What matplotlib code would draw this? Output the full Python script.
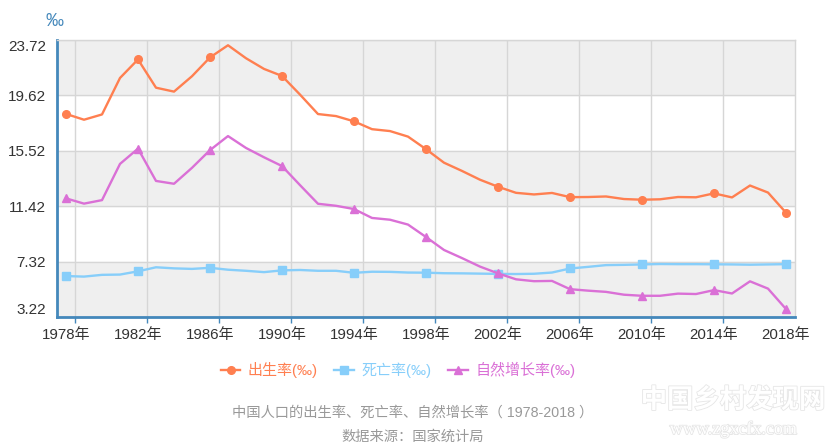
import matplotlib.pyplot as plt
from matplotlib.lines import Line2D
import matplotlib.patheffects as pe

plt.rcParams['font.family'] = ['Liberation Sans', 'Noto Sans CJK SC', 'DejaVu Sans']

years = list(range(1978, 2019))
birth = [18.25, 17.82, 18.21, 20.91, 22.28, 20.19, 19.90, 21.04, 22.43, 23.33,
         22.37, 21.58, 21.06, 19.68, 18.24, 18.09, 17.70, 17.12, 16.98, 16.57,
         15.64, 14.64, 14.03, 13.38, 12.86, 12.41, 12.29, 12.40, 12.09, 12.10,
         12.14, 11.95, 11.90, 11.93, 12.10, 12.08, 12.37, 12.07, 12.95, 12.43,
         10.94]
death = [6.25, 6.21, 6.34, 6.36, 6.60, 6.90, 6.82, 6.78, 6.86, 6.72,
         6.64, 6.54, 6.67, 6.70, 6.64, 6.64, 6.49, 6.57, 6.56, 6.51,
         6.50, 6.46, 6.45, 6.43, 6.41, 6.40, 6.42, 6.51, 6.81, 6.93,
         7.06, 7.08, 7.11, 7.14, 7.13, 7.13, 7.12, 7.11, 7.09, 7.11,
         7.13]
growth = [12.00, 11.61, 11.87, 14.55, 15.68, 13.29, 13.08, 14.26, 15.57, 16.61,
          15.73, 15.04, 14.39, 12.98, 11.60, 11.45, 11.21, 10.55, 10.42, 10.06,
          9.14, 8.18, 7.58, 6.95, 6.45, 6.01, 5.87, 5.89, 5.28, 5.17,
          5.08, 4.87, 4.79, 4.79, 4.95, 4.92, 5.21, 4.96, 5.86, 5.32,
          3.81]
y_ticks = [3.22, 7.32, 11.42, 15.52, 19.62, 23.72]
x_label_years = years[::4]
series_names = ['出生率(‰)', '死亡率(‰)', '自然增长率(‰)']

colors = ['#ff7f50', '#87cefa', '#da70d6']
markers = ['o', 's', '^']
axis_blue = '#4488bb'

fig = plt.figure(figsize=(8.25, 4.48), dpi=100)
ax = fig.add_axes([57 / 825, 1 - 317 / 448, 738 / 825, 277 / 448])

# alternating bands
for i in range(len(y_ticks) - 1):
    if i % 2 == 0:
        ax.axhspan(y_ticks[i], y_ticks[i + 1], color='#efefef', zorder=0)

for vals, c, m in zip([birth, death, growth], colors, markers):
    ax.plot(years, vals, color=c, lw=1.7, marker=m, ms=5.5, markevery=4, zorder=3)

ax.set_xlim(1977.5, 2018.5)
ax.set_ylim(y_ticks[0], y_ticks[-1])
ax.set_xticks(x_label_years)
ax.set_xticklabels(['{}年'.format(y) for y in x_label_years])
ax.set_xticks([y + 0.5 for y in x_label_years[:-1]], minor=True)
ax.set_yticks(y_ticks)
ax.set_yticklabels(['{:.2f}'.format(v) for v in y_ticks])

ax.grid(which='minor', axis='x', color='#d6d6d6', lw=1, zorder=1)
ax.grid(which='major', axis='y', color='#d6d6d6', lw=1, zorder=1)
ax.set_axisbelow(True)

ax.tick_params(axis='x', which='major', length=0, pad=8, labelsize=10.8, labelcolor='#333333')
ax.tick_params(axis='x', which='minor', length=4, width=1, color=axis_blue)
ax.tick_params(axis='y', length=0, pad=8, labelsize=11, labelcolor='#333333')

labels = ax.get_yticklabels()
labels[0].set_va('bottom')
labels[-1].set_va('top')

for s in ['left', 'bottom']:
    ax.spines[s].set_color(axis_blue)
    ax.spines[s].set_linewidth(2)
for s in ['top', 'right']:
    ax.spines[s].set_color('#d6d6d6')
    ax.spines[s].set_linewidth(1)

fig.text(55 / 825, 1 - 22 / 448, '‰', ha='center', va='center', color=axis_blue, fontsize=13)

handles = [Line2D([], [], color=c, lw=1.7, marker=m, ms=5.5) for c, m in zip(colors, markers)]
leg = fig.legend(handles, series_names, loc='center', bbox_to_anchor=(398 / 825, 1 - 370 / 448),
                 ncol=3, frameon=False, handlelength=1.3, handletextpad=0.5,
                 columnspacing=1.1, prop={'size': 10.8})
for t, c in zip(leg.get_texts(), colors):
    t.set_color(c)

fig.text(0.5, 1 - 413 / 448, '中国人口的出生率、死亡率、自然增长率（ 1978-2018 ）',
         ha='center', va='center', color='#999999', fontsize=10.3)
fig.text(0.5, 1 - 437 / 448, '数据来源：国家统计局',
         ha='center', va='center', color='#999999', fontsize=10.3)

# faint watermark
stroke = [pe.withStroke(linewidth=1.2, foreground='#e6e6e6')]
fig.text(733 / 825, 1 - 400 / 448, '中国乡村发现网', ha='center', va='center',
         color='white', fontsize=19, fontweight='bold', path_effects=stroke)
fig.text(733 / 825, 1 - 429 / 448, 'www.zgxcfx.com', ha='center', va='center',
         color='white', fontsize=13, path_effects=stroke, family='Liberation Serif')

fig.savefig('out.png', dpi=100)
